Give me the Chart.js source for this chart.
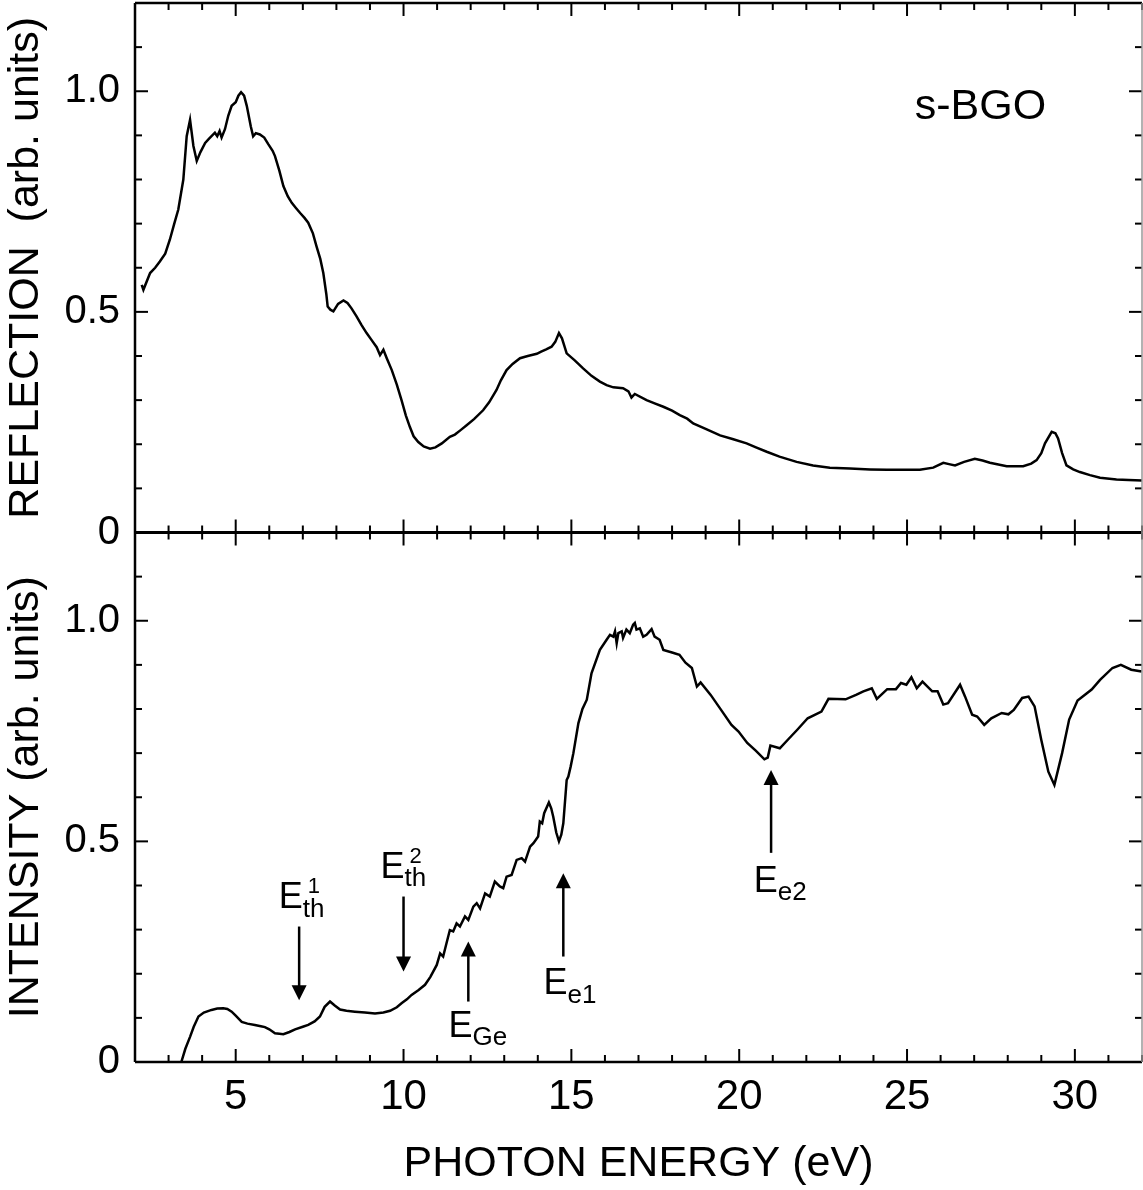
<!DOCTYPE html>
<html>
<head>
<meta charset="utf-8">
<script src="https://cdn.jsdelivr.net/npm/chart.js@4.4.1/dist/chart.umd.min.js"></script>
<style>
  html, body { margin: 0; padding: 0; background: #fff; }
  canvas { display: block; background: #fff; }
</style>
</head>
<body>
<canvas id="spectra" width="1143" height="1190"></canvas>
<script>
// reflection spectrum (top panel), photon energy in eV
const reflE = [2.2, 2.25, 2.45, 2.6, 2.74, 2.9, 3.04, 3.17, 3.29, 3.44, 3.54, 3.64, 3.74, 3.84, 3.95, 4.09, 4.2, 4.38, 4.45, 4.52, 4.58, 4.68, 4.78, 4.88, 5.0, 5.08, 5.16, 5.25, 5.33, 5.45, 5.52, 5.6, 5.72, 5.85, 5.97, 6.1, 6.17, 6.3, 6.42, 6.55, 6.67, 6.8, 6.92, 7.05, 7.16, 7.3, 7.41, 7.52, 7.61, 7.7, 7.74, 7.82, 7.91, 8.05, 8.21, 8.33, 8.45, 8.6, 8.75, 8.9, 9.05, 9.2, 9.3, 9.4, 9.5, 9.65, 9.8, 9.94, 10.07, 10.19, 10.3, 10.44, 10.6, 10.79, 10.95, 11.14, 11.38, 11.53, 11.7, 11.88, 12.1, 12.37, 12.55, 12.77, 12.9, 13.07, 13.25, 13.47, 13.7, 13.97, 14.1, 14.25, 14.41, 14.52, 14.63, 14.72, 14.86, 15.1, 15.35, 15.6, 15.85, 16.05, 16.25, 16.54, 16.7, 16.79, 16.89, 17.24, 17.5, 17.74, 18.0, 18.23, 18.45, 18.63, 19.0, 19.43, 19.8, 20.22, 20.5, 20.82, 21.2, 21.71, 22.2, 22.7, 23.3, 23.9, 24.4, 24.79, 25.38, 25.78, 26.08, 26.25, 26.43, 26.7, 27.02, 27.25, 27.47, 27.97, 28.46, 28.7, 28.86, 29.0, 29.11, 29.31, 29.42, 29.5, 29.62, 29.75, 29.95, 30.15, 30.45, 30.75, 31.24, 31.6, 32.0];
const reflV = [0.561, 0.55, 0.588, 0.6, 0.614, 0.632, 0.664, 0.7, 0.732, 0.8, 0.898, 0.935, 0.876, 0.842, 0.862, 0.883, 0.892, 0.906, 0.898, 0.91, 0.895, 0.914, 0.945, 0.967, 0.975, 0.99, 0.998, 0.99, 0.967, 0.92, 0.898, 0.905, 0.902, 0.895, 0.88, 0.865, 0.853, 0.82, 0.785, 0.762, 0.747, 0.735, 0.724, 0.713, 0.702, 0.678, 0.648, 0.62, 0.588, 0.54, 0.512, 0.505, 0.501, 0.518, 0.526, 0.52, 0.508, 0.49, 0.47, 0.452, 0.436, 0.42, 0.402, 0.414, 0.395, 0.368, 0.335, 0.3, 0.265, 0.239, 0.218, 0.205, 0.195, 0.19, 0.193, 0.202, 0.217, 0.222, 0.232, 0.243, 0.257, 0.277, 0.295, 0.323, 0.345, 0.368, 0.382, 0.395, 0.4, 0.405, 0.41, 0.415, 0.421, 0.432, 0.452, 0.44, 0.406, 0.39, 0.372, 0.355, 0.342, 0.334, 0.329, 0.327, 0.32, 0.306, 0.314, 0.3, 0.292, 0.285, 0.276, 0.266, 0.258, 0.247, 0.235, 0.22, 0.212, 0.202, 0.193, 0.183, 0.172, 0.16, 0.152, 0.147, 0.145, 0.143, 0.142, 0.142, 0.142, 0.147, 0.158, 0.155, 0.152, 0.16, 0.167, 0.163, 0.158, 0.15, 0.15, 0.156, 0.164, 0.18, 0.202, 0.228, 0.225, 0.213, 0.18, 0.152, 0.143, 0.137, 0.13, 0.124, 0.12, 0.119, 0.118];

// intensity spectrum (bottom panel)
const intE = [3.38, 3.5, 3.64, 3.75, 3.89, 4.05, 4.28, 4.45, 4.63, 4.75, 4.88, 5.0, 5.18, 5.35, 5.57, 5.75, 5.87, 6.0, 6.17, 6.3, 6.42, 6.6, 6.77, 7.0, 7.16, 7.35, 7.51, 7.65, 7.81, 7.95, 8.11, 8.3, 8.55, 8.85, 9.15, 9.4, 9.6, 9.8, 9.94, 10.1, 10.24, 10.45, 10.64, 10.8, 10.99, 11.09, 11.18, 11.28, 11.38, 11.48, 11.58, 11.68, 11.83, 11.93, 12.08, 12.18, 12.28, 12.43, 12.57, 12.72, 12.87, 12.97, 13.07, 13.22, 13.37, 13.52, 13.62, 13.77, 13.87, 14.01, 14.06, 14.13, 14.19, 14.33, 14.4, 14.46, 14.55, 14.63, 14.7, 14.76, 14.86, 14.91, 14.98, 15.06, 15.21, 15.33, 15.46, 15.6, 15.85, 16.05, 16.15, 16.25, 16.3, 16.35, 16.4, 16.5, 16.54, 16.64, 16.74, 16.84, 16.89, 16.94, 17.04, 17.14, 17.24, 17.39, 17.48, 17.63, 17.74, 18.0, 18.22, 18.4, 18.59, 18.74, 18.85, 19.15, 19.46, 19.77, 19.98, 20.24, 20.5, 20.75, 20.85, 20.93, 21.21, 21.47, 21.73, 22.04, 22.45, 22.66, 23.17, 23.48, 23.7, 23.95, 24.1, 24.41, 24.67, 24.82, 24.98, 25.13, 25.29, 25.46, 25.75, 25.91, 26.08, 26.22, 26.58, 26.73, 26.94, 27.09, 27.3, 27.51, 27.82, 28.02, 28.18, 28.43, 28.62, 28.8, 29.0, 29.21, 29.39, 29.62, 29.83, 30.08, 30.5, 30.75, 31.12, 31.37, 31.68, 31.99];
const intV = [0.0, 0.03, 0.057, 0.08, 0.103, 0.112, 0.118, 0.121, 0.122, 0.12, 0.114, 0.105, 0.091, 0.087, 0.084, 0.081, 0.079, 0.074, 0.065, 0.064, 0.063, 0.068, 0.074, 0.08, 0.084, 0.092, 0.103, 0.125, 0.137, 0.128, 0.119, 0.116, 0.114, 0.112, 0.11, 0.112, 0.116, 0.124, 0.133, 0.142, 0.152, 0.163, 0.175, 0.193, 0.22, 0.246, 0.239, 0.269, 0.299, 0.296, 0.314, 0.307, 0.33, 0.322, 0.352, 0.36, 0.348, 0.382, 0.375, 0.409, 0.398, 0.394, 0.42, 0.424, 0.458, 0.462, 0.454, 0.488, 0.496, 0.511, 0.545, 0.541, 0.564, 0.588, 0.575, 0.556, 0.52, 0.5, 0.515, 0.541, 0.639, 0.647, 0.67, 0.7, 0.768, 0.8, 0.821, 0.881, 0.934, 0.957, 0.968, 0.964, 0.976, 0.949, 0.972, 0.976, 0.961, 0.98, 0.972, 0.991, 0.995, 0.98, 0.983, 0.964, 0.968, 0.981, 0.964, 0.957, 0.934, 0.928, 0.923, 0.905, 0.893, 0.851, 0.86, 0.832, 0.798, 0.764, 0.749, 0.723, 0.705, 0.686, 0.69, 0.717, 0.711, 0.732, 0.753, 0.779, 0.794, 0.823, 0.822, 0.832, 0.84, 0.847, 0.823, 0.845, 0.845, 0.859, 0.855, 0.872, 0.847, 0.862, 0.84, 0.84, 0.81, 0.813, 0.855, 0.828, 0.787, 0.783, 0.764, 0.779, 0.791, 0.788, 0.798, 0.825, 0.828, 0.806, 0.73, 0.658, 0.628, 0.7, 0.776, 0.819, 0.844, 0.866, 0.893, 0.9, 0.889, 0.885];

// tick labels
const xTicks = [5, 10, 15, 20, 25, 30];
const yTicks = [0, 0.5, 1.0];

// arrows in the intensity panel: x position (eV), tail and tip (intensity units)
const arrowX = [6.89, 10.0, 11.93, 14.76, 20.95];
const arrowFrom = [0.307, 0.375, 0.137, 0.239, 0.474];
const arrowTo = [0.14, 0.205, 0.273, 0.428, 0.662];

// arrow labels: E with subscript / superscript
const labelSub = ['th', 'th', 'Ge', 'e1', 'e2'];
const labelSup = ['1', '2', '', '', ''];
const labelX = [6.37, 9.40, 11.43, 14.26, 20.52];
const labelY = [0.349, 0.417, 0.057, 0.154, 0.386];

const FONT = '"Liberation Sans", Arial, Helvetica, sans-serif';

function toPoints(xs, ys) {
    return xs.map((x, i) => ({ x: x, y: ys[i] }));
}

function yAxis(title) {
    return {
        type: 'linear',
        position: 'left',
        stack: 'panels',
        stackWeight: 1,
        min: 0,
        max: 1.2,
        afterBuildTicks: s => { s.ticks = yTicks.map(v => ({ value: v })); },
        afterFit: s => {
            s.width = 135;
            // no extra room for the label overhang
            s.paddingTop = 0;
            s.paddingBottom = 0;
        },
        grid: { display: false, drawTicks: false },
        border: { display: false },
        ticks: {
            color: '#000',
            padding: 15,
            font: { family: FONT, size: 40 },
            callback: v => v === 0 ? '0' : v.toFixed(1)
        },
        title: {
            display: true,
            text: title,
            color: '#000',
            font: { family: FONT, size: 43 },
            padding: { top: 0, bottom: 0 }
        }
    };
}

// frame, inward ticks, arrows and labels
const framePlugin = {
    id: 'frame',
    afterDatasetsDraw(chart) {
        const ctx = chart.ctx;
        const a = chart.chartArea;
        const x = chart.scales.x;
        const panels = [chart.scales.yR, chart.scales.yI];

        function seg(x1, y1, x2, y2) {
            ctx.beginPath();
            ctx.moveTo(x1, y1);
            ctx.lineTo(x2, y2);
            ctx.stroke();
        }

        ctx.save();
        ctx.strokeStyle = '#000';
        ctx.lineWidth = 2;
        panels.forEach(y => {
            for (let v = 2; v <= 32; v++) {
                const px = x.getPixelForValue(v);
                const len = v % 5 === 0 ? 13 : 7;
                seg(px, y.top, px, y.top + len);
                seg(px, y.bottom, px, y.bottom - len);
            }
            for (let k = 0; k <= 12; k++) {
                const py = y.getPixelForValue(k / 10);
                const len = k % 5 === 0 ? 13 : 7;
                seg(a.left, py, a.left + len, py);
                seg(a.right, py, a.right - len, py);
            }
        });

        // borders
        ctx.lineWidth = 2.5;
        seg(a.left, a.top, a.right, a.top);
        seg(a.left, a.top, a.left, a.bottom);
        seg(a.left, a.bottom, a.right, a.bottom);
        ctx.lineWidth = 3;
        seg(a.left, chart.scales.yR.bottom, a.right, chart.scales.yR.bottom);
        ctx.strokeStyle = '#999';
        ctx.lineWidth = 1.5;
        seg(a.right, a.top, a.right, a.bottom);

        // arrows
        const yI = chart.scales.yI;
        ctx.strokeStyle = '#000';
        ctx.fillStyle = '#000';
        ctx.lineWidth = 2.5;
        arrowX.forEach((ev, i) => {
            const px = x.getPixelForValue(ev);
            const p0 = yI.getPixelForValue(arrowFrom[i]);
            const p1 = yI.getPixelForValue(arrowTo[i]);
            const dir = p1 > p0 ? 1 : -1;
            seg(px, p0, px, p1 - dir * 12);
            ctx.beginPath();
            ctx.moveTo(px, p1);
            ctx.lineTo(px - 7.5, p1 - dir * 15);
            ctx.lineTo(px + 7.5, p1 - dir * 15);
            ctx.closePath();
            ctx.fill();
        });

        // labels
        ctx.textBaseline = 'alphabetic';
        ctx.textAlign = 'left';
        labelX.forEach((ev, i) => {
            const px = x.getPixelForValue(ev) - 3;
            const py = yI.getPixelForValue(labelY[i]);
            ctx.font = '36px ' + FONT;
            ctx.fillText('E', px, py);
            const w = ctx.measureText('E').width;
            ctx.font = '26px ' + FONT;
            ctx.fillText(labelSub[i], px + w, py + 8.5);
            if (labelSup[i]) {
                ctx.font = '22px ' + FONT;
                ctx.fillText(labelSup[i], px + w + 5, py - 15);
            }
        });

        // sample name
        const yR = chart.scales.yR;
        ctx.font = '43px ' + FONT;
        ctx.fillText('s-BGO', x.getPixelForValue(25.29) - 2, yR.getPixelForValue(0.936));
        ctx.restore();
    }
};

const ctx = document.getElementById('spectra').getContext('2d');

const spectraChart = new Chart(ctx, {
    type: 'line',
    data: {
        datasets: [
            {
                label: 'Reflection',
                data: toPoints(reflE, reflV),
                yAxisID: 'yR',
                borderColor: '#000',
                borderWidth: 2.5,
                pointRadius: 0,
                tension: 0
            },
            {
                label: 'Intensity',
                data: toPoints(intE, intV),
                yAxisID: 'yI',
                borderColor: '#000',
                borderWidth: 2.5,
                pointRadius: 0,
                tension: 0
            }
        ]
    },
    options: {
        responsive: false,
        animation: false,
        events: [],
        layout: { padding: { top: 3, right: 1, left: 0, bottom: 0 } },
        plugins: {
            legend: { display: false },
            tooltip: { enabled: false }
        },
        scales: {
            x: {
                type: 'linear',
                min: 2,
                max: 32,
                afterBuildTicks: s => { s.ticks = xTicks.map(v => ({ value: v })); },
                afterFit: s => {
                    s.height = 128;
                    s.paddingLeft = 0;
                    s.paddingRight = 0;
                },
                grid: { display: false, drawTicks: false },
                border: { display: false },
                ticks: {
                    color: '#000',
                    padding: 10,
                    maxRotation: 0,
                    font: { family: FONT, size: 42 }
                },
                title: {
                    display: true,
                    text: 'PHOTON ENERGY (eV)',
                    color: '#000',
                    font: { family: FONT, size: 43 },
                    padding: { top: 0, bottom: 0 }
                }
            },
            // defined first so that it is stacked below the reflection axis
            yI: yAxis('INTENSITY (arb. units)'),
            yR: yAxis('REFLECTION  (arb. units)')
        }
    },
    plugins: [framePlugin]
});
</script>
</body>
</html>
